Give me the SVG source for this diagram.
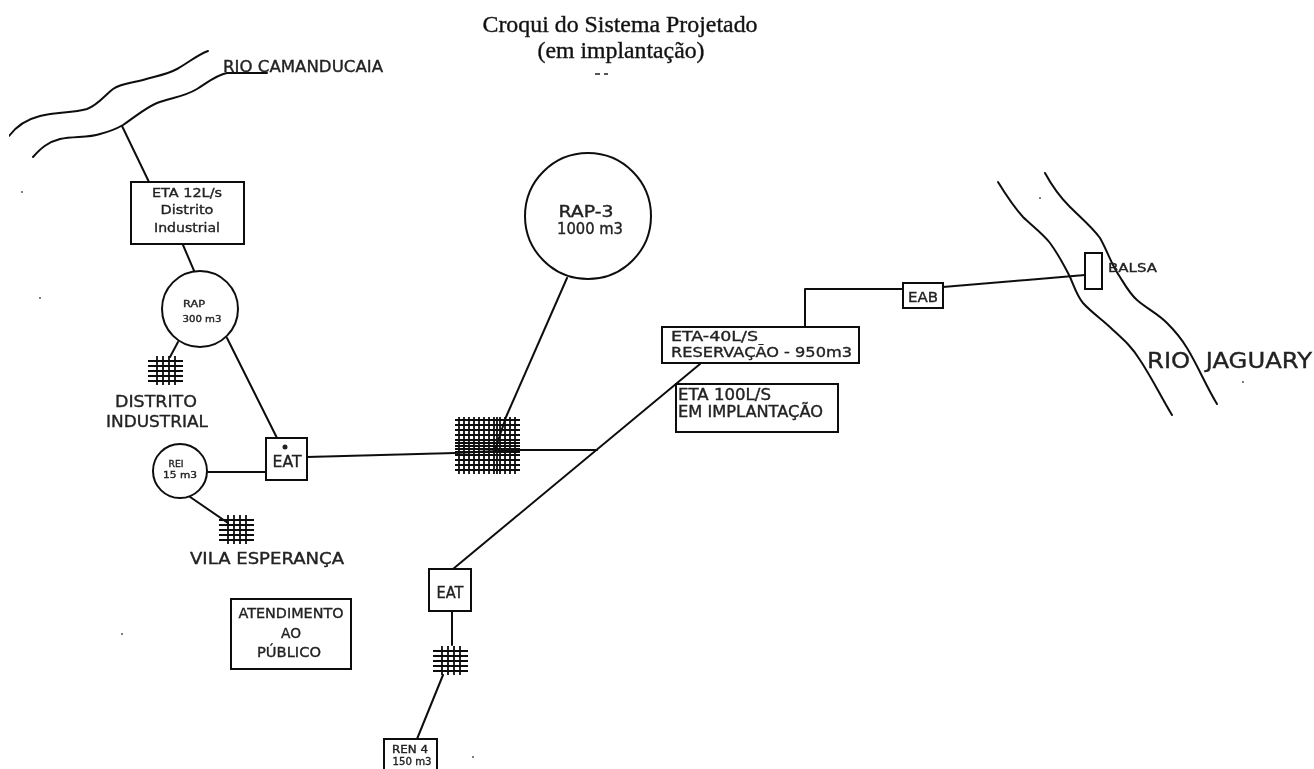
<svg xmlns="http://www.w3.org/2000/svg" width="1314" height="769" viewBox="0 0 1314 769">
<style>
.l{fill:none;stroke:#111;stroke-width:2;stroke-linecap:round;stroke-linejoin:round}
.t{fill:none;stroke:#111;stroke-width:1.8}
.b{fill:#fff;stroke:#111;stroke-width:2}
text{font-family:"DejaVu Sans","Liberation Sans",sans-serif;fill:#222;text-anchor:middle;stroke:#222;stroke-width:.35;white-space:pre}
.s{text-anchor:start}
.ti{font-family:"Liberation Serif","Times New Roman",serif;font-size:23px;stroke-width:.4;fill:#111}
.n{fill:#555;stroke:none}
</style>
<defs>
<filter id="scan" x="0" y="0" width="100%" height="100%"><feGaussianBlur stdDeviation="0.5"/></filter>
<path id="grid" class="t" d="M0 5H35M0 10H35M0 15H35M0 20H35M0 25H35M9 0V29M15 0V29M21 0V29M27 0V29"/>
</defs>
<rect width="1314" height="769" fill="#fff"/>
<g filter="url(#scan)">
<g id="title">
<text class="ti" x="620" y="32" textLength="275" lengthAdjust="spacingAndGlyphs">Croqui do Sistema Projetado</text>
<text class="ti" x="621" y="58" textLength="167" lengthAdjust="spacingAndGlyphs">(em implantação)</text>
</g>
<g id="rivers">
<path class="l" d="M9 136C18 124 28 119 40 116C58 112 72 113 87 109C98 105 105 95 113 89C122 83 133 83 143 80C156 76 166 75 177 69C188 63 197 55 208 51"/>
<path class="l" d="M33 157C41 148 48 142 60 139C74 136 88 138 100 134C108 132 116 129 123 125C135 117 145 108 157 103C170 98 184 97 197 89C207 83 216 75 227 73H267"/>
<path class="l" d="M998 182C1006 195 1014 207 1023 217C1032 226 1042 233 1050 243C1058 254 1064 265 1070 277C1074 286 1077 296 1083 303C1092 313 1103 320 1113 330C1124 340 1132 347 1140 360C1152 378 1161 397 1172 415"/>
<path class="l" d="M1045 173C1052 186 1060 197 1070 207C1080 217 1092 227 1100 238C1107 250 1112 266 1120 277C1125 285 1130 294 1137 300C1146 308 1158 314 1167 323C1175 331 1181 338 1187 348C1198 366 1206 386 1217 404"/>
<text x="303" y="72" font-size="16" textLength="160" lengthAdjust="spacingAndGlyphs">RIO CAMANDUCAIA</text>
<text x="1229.500" y="368" font-size="22" textLength="165" lengthAdjust="spacingAndGlyphs" stroke-width="0">RIO  JAGUARY</text>
</g>
<g id="connectors">
<path class="l" d="M122 126L149 182M183 245L195 273M227 338L277 438M178 342L170 357"/>
<path class="l" d="M208 472H266M180 490L228 523"/>
<path class="l" d="M307 457L455 453L520 450H597M567 278L506 417L495 450"/>
<path class="l" d="M700 364L453 569M452 611V645M443 675L417 739"/>
<path class="l" d="M805 327V289H903M943 287L1085 275"/>
</g>
<g id="eta12"><rect class="b" x="131" y="182" width="113" height="62"/>
<text x="187" y="197" font-size="13" textLength="70" lengthAdjust="spacingAndGlyphs">ETA 12L/s</text>
<text x="187" y="214" font-size="13" textLength="53" lengthAdjust="spacingAndGlyphs">Distrito</text>
<text x="187" y="232" font-size="13" textLength="66" lengthAdjust="spacingAndGlyphs">Industrial</text></g>
<g id="rap300"><circle class="b" cx="200" cy="309" r="38"/>
<text x="194" y="307" font-size="9" textLength="22" lengthAdjust="spacingAndGlyphs">RAP</text>
<text x="202" y="322" font-size="9" textLength="39" lengthAdjust="spacingAndGlyphs">300 m3</text></g>
<g id="grid-distrito"><use href="#grid" x="148" y="356"/>
<text x="156" y="407" font-size="16" textLength="82" lengthAdjust="spacingAndGlyphs">DISTRITO</text>
<text x="157" y="427" font-size="16" textLength="102" lengthAdjust="spacingAndGlyphs">INDUSTRIAL</text></g>
<g id="eat1"><rect class="b" x="266" y="438" width="41" height="42"/>
<circle cx="285" cy="447" r="2.500" fill="#222"/>
<text x="287" y="467" font-size="15" textLength="29" lengthAdjust="spacingAndGlyphs">EAT</text></g>
<g id="rei"><circle class="b" cx="180" cy="471" r="27"/>
<text x="176" y="467" font-size="9" textLength="15" lengthAdjust="spacingAndGlyphs">REI</text>
<text x="180" y="478" font-size="9" textLength="34" lengthAdjust="spacingAndGlyphs">15 m3</text></g>
<g id="grid-vila"><use href="#grid" x="219" y="515"/>
<text x="267" y="564" font-size="15" textLength="154" lengthAdjust="spacingAndGlyphs">VILA ESPERANÇA</text></g>
<g id="atendimento"><rect class="b" x="231" y="599" width="120" height="70"/>
<text x="291" y="618" font-size="14" textLength="105" lengthAdjust="spacingAndGlyphs">ATENDIMENTO</text>
<text x="291" y="638" font-size="14" textLength="20" lengthAdjust="spacingAndGlyphs">AO</text>
<text x="289" y="657" font-size="14" textLength="64" lengthAdjust="spacingAndGlyphs">PÚBLICO</text></g>
<g id="grid-central">
<path class="t" d="M455 420H520M455 425H520M455 430H520M455 435H520M455 440H520M455 443H520M455 446H520M455 449H520M455 452H520M455 455H520M455 460H520M455 465H520M455 470H520M459 417V474M464 417V474M469 417V474M474 417V474M479 417V474M484 417V474M489 417V474M494 417V474M497 417V474M500 417V474M505 417V474M510 417V474M515 417V474"/></g>
<g id="rap3"><circle class="b" cx="588" cy="216" r="63"/>
<text x="586" y="217" font-size="15" textLength="55" lengthAdjust="spacingAndGlyphs">RAP-3</text>
<text x="590" y="234" font-size="15" textLength="66" lengthAdjust="spacingAndGlyphs">1000 m3</text></g>
<g id="eta40"><rect class="b" x="662" y="327" width="197" height="36"/>
<text class="s" x="671" y="341" font-size="14" textLength="87" lengthAdjust="spacingAndGlyphs">ETA-40L/S</text>
<text class="s" x="671" y="357" font-size="14" textLength="181" lengthAdjust="spacingAndGlyphs">RESERVAÇÃO - 950m3</text></g>
<g id="eta100"><rect class="b" x="676" y="384" width="162" height="48"/>
<text class="s" x="678" y="400" font-size="15" textLength="93" lengthAdjust="spacingAndGlyphs">ETA 100L/S</text>
<text class="s" x="678" y="417" font-size="15" textLength="145" lengthAdjust="spacingAndGlyphs">EM IMPLANTAÇÃO</text></g>
<g id="eab"><rect class="b" x="903" y="283" width="40" height="25"/>
<text x="923" y="302" font-size="14" textLength="30" lengthAdjust="spacingAndGlyphs">EAB</text></g>
<g id="balsa"><rect class="b" x="1085" y="253" width="17" height="36"/>
<text class="s" x="1108" y="272" font-size="13" textLength="49" lengthAdjust="spacingAndGlyphs">BALSA</text></g>
<g id="eat2"><rect class="b" x="429" y="569" width="42" height="42"/>
<text x="450" y="598" font-size="15" textLength="27" lengthAdjust="spacingAndGlyphs">EAT</text></g>
<g id="grid-ren"><use href="#grid" x="433" y="646"/></g>
<g id="ren4"><rect class="b" x="384" y="739" width="53" height="34"/>
<text x="410" y="753" font-size="10" textLength="36" lengthAdjust="spacingAndGlyphs">REN 4</text>
<text x="412" y="765" font-size="10" textLength="39" lengthAdjust="spacingAndGlyphs">150 m3</text></g>
<g id="specks">
<rect class="n" x="595" y="73" width="5" height="2"/><rect class="n" x="604" y="73" width="4" height="2"/>
<circle class="n" cx="22" cy="192" r="1"/><circle class="n" cx="40" cy="298" r="1"/><circle class="n" cx="122" cy="634" r="1"/><circle class="n" cx="1040" cy="198" r="1"/><circle class="n" cx="1243" cy="382" r="1"/><circle class="n" cx="473" cy="757" r="1"/>
</g>
</g>
</svg>
